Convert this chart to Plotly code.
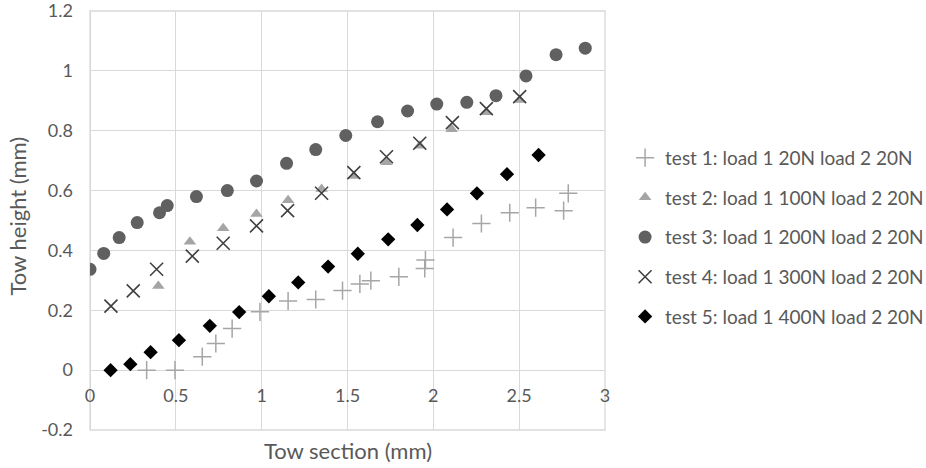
import plotly.graph_objects as go

# ---- data ----
t1_x = [0.33, 0.495, 0.654, 0.733, 0.828, 0.99, 1.154, 1.315, 1.471, 1.572, 1.636, 1.799, 1.95, 1.954, 2.115, 2.28, 2.445, 2.596, 2.759, 2.786]
t1_y = [0.0, 0.0, 0.045, 0.089, 0.139, 0.195, 0.231, 0.236, 0.266, 0.288, 0.299, 0.312, 0.340, 0.368, 0.443, 0.49, 0.526, 0.543, 0.533, 0.591]

t2_x = [0.398, 0.582, 0.776, 0.970, 1.154, 1.349, 1.537, 1.727, 1.921, 2.107, 2.309, 2.503]
t2_y = [0.281, 0.429, 0.474, 0.522, 0.568, 0.605, 0.649, 0.695, 0.750, 0.805, 0.862, 0.903]

t3_x = [0.0, 0.08, 0.17, 0.275, 0.405, 0.45, 0.62, 0.80, 0.97, 1.145, 1.315, 1.49, 1.675, 1.85, 2.02, 2.195, 2.365, 2.54, 2.715, 2.885]
t3_y = [0.337, 0.39, 0.443, 0.493, 0.526, 0.55, 0.58, 0.60, 0.632, 0.691, 0.737, 0.784, 0.830, 0.866, 0.889, 0.895, 0.917, 0.983, 1.054, 1.076]

t4_x = [0.122, 0.252, 0.388, 0.596, 0.776, 0.970, 1.151, 1.349, 1.537, 1.727, 1.921, 2.111, 2.309, 2.503]
t4_y = [0.214, 0.265, 0.337, 0.381, 0.424, 0.482, 0.533, 0.591, 0.660, 0.713, 0.758, 0.827, 0.874, 0.914]

t5_x = [0.12, 0.235, 0.353, 0.518, 0.698, 0.869, 1.042, 1.213, 1.387, 1.56, 1.737, 1.907, 2.08, 2.254, 2.429, 2.613]
t5_y = [0.0, 0.02, 0.06, 0.10, 0.148, 0.194, 0.247, 0.293, 0.346, 0.389, 0.437, 0.485, 0.537, 0.591, 0.655, 0.719]

names = ["test 1: load 1 20N load 2 20N",
         "test 2: load 1 100N load 2 20N",
         "test 3: load 1 200N load 2 20N",
         "test 4: load 1 300N load 2 20N",
         "test 5: load 1 400N load 2 20N"]

x_ticks = [0, 0.5, 1, 1.5, 2, 2.5, 3]
x_tick_text = ["0", "0.5", "1", "1.5", "2", "2.5", "3"]
y_ticks = [-0.2, 0, 0.2, 0.4, 0.6, 0.8, 1, 1.2]
y_tick_text = ["-0.2", "0", "0.2", "0.4", "0.6", "0.8", "1", "1.2"]

FONT = "Lato"
TXT = "#595959"
GRID = "#d9d9d9"

fig = go.Figure()
fig.add_trace(go.Scatter(x=t1_x, y=t1_y, mode="markers", name=names[0], legendgroup="1",
                         marker=dict(symbol="cross-thin", size=13, line=dict(color="#a6a6a6", width=1.5))))
fig.add_trace(go.Scatter(x=t2_x, y=t2_y, mode="markers", name=names[1], legendgroup="2",
                         marker=dict(symbol="triangle-up", size=11, color="#a5a5a5")))
fig.add_trace(go.Scatter(x=t3_x, y=t3_y, mode="markers", name=names[2], legendgroup="3",
                         marker=dict(symbol="circle", size=13, color="#606060")))
fig.add_trace(go.Scatter(x=t4_x, y=t4_y, mode="markers", name=names[3], legendgroup="4",
                         marker=dict(symbol="x-thin", size=13, line=dict(color="#404040", width=1.6))))
fig.add_trace(go.Scatter(x=t5_x, y=t5_y, mode="markers", name=names[4], legendgroup="5",
                         marker=dict(symbol="diamond", size=11, color="#000000")))

y_min, y_max = -0.2, 1.2001
y0_frac = (0 - y_min) / (y_max - y_min)

fig.update_layout(
    width=926, height=468,
    margin=dict(l=90, r=321, t=11, b=38, autoexpand=False),
    paper_bgcolor="white", plot_bgcolor="white",
    font=dict(family=FONT, color=TXT, size=18),
    legend=dict(x=1.039, y=0.695, xanchor="left", yanchor="top",
                font=dict(size=19, color=TXT, family=FONT),
                tracegroupgap=12, traceorder="grouped", itemwidth=30),
    xaxis=dict(range=[0, 3], tickvals=x_ticks, ticktext=x_tick_text,
               showgrid=True, gridcolor=GRID, gridwidth=1.3,
               zeroline=True, zerolinecolor=GRID, zerolinewidth=1.3,
               showline=False, anchor="free", position=y0_frac, automargin=False,
               ticks="", ticklabelstandoff=13, ticklabeloverflow="allow",
               tickfont=dict(size=18, color=TXT)),
    yaxis=dict(range=[y_min, y_max], tickvals=y_ticks, ticktext=y_tick_text,
               showgrid=True, gridcolor=GRID, gridwidth=1.3,
               zeroline=True, zerolinecolor=GRID, zerolinewidth=1.3,
               showline=False, ticks="", ticklabelstandoff=16, automargin=False,
               ticklabeloverflow="allow", tickfont=dict(size=18, color=TXT)),
    shapes=[dict(type="rect", xref="paper", yref="paper", x0=0, x1=1, y0=0, y1=1,
                 line=dict(color=GRID, width=1.3), layer="below")],
    annotations=[
        dict(text="Tow section (mm)", xref="paper", yref="paper", x=0.5, y=0,
             xanchor="center", yanchor="middle", yshift=-20, showarrow=False,
             font=dict(size=22, color=TXT)),
        dict(text="Tow height (mm)", xref="paper", yref="paper", x=0, y=0.5,
             xanchor="center", yanchor="middle", xshift=-73, yshift=4, textangle=-90,
             showarrow=False, font=dict(size=22, color=TXT)),
    ],
)

fig.write_html("out.html", config={"displayModeBar": False},
               post_script="document.body.style.margin='0px';")
